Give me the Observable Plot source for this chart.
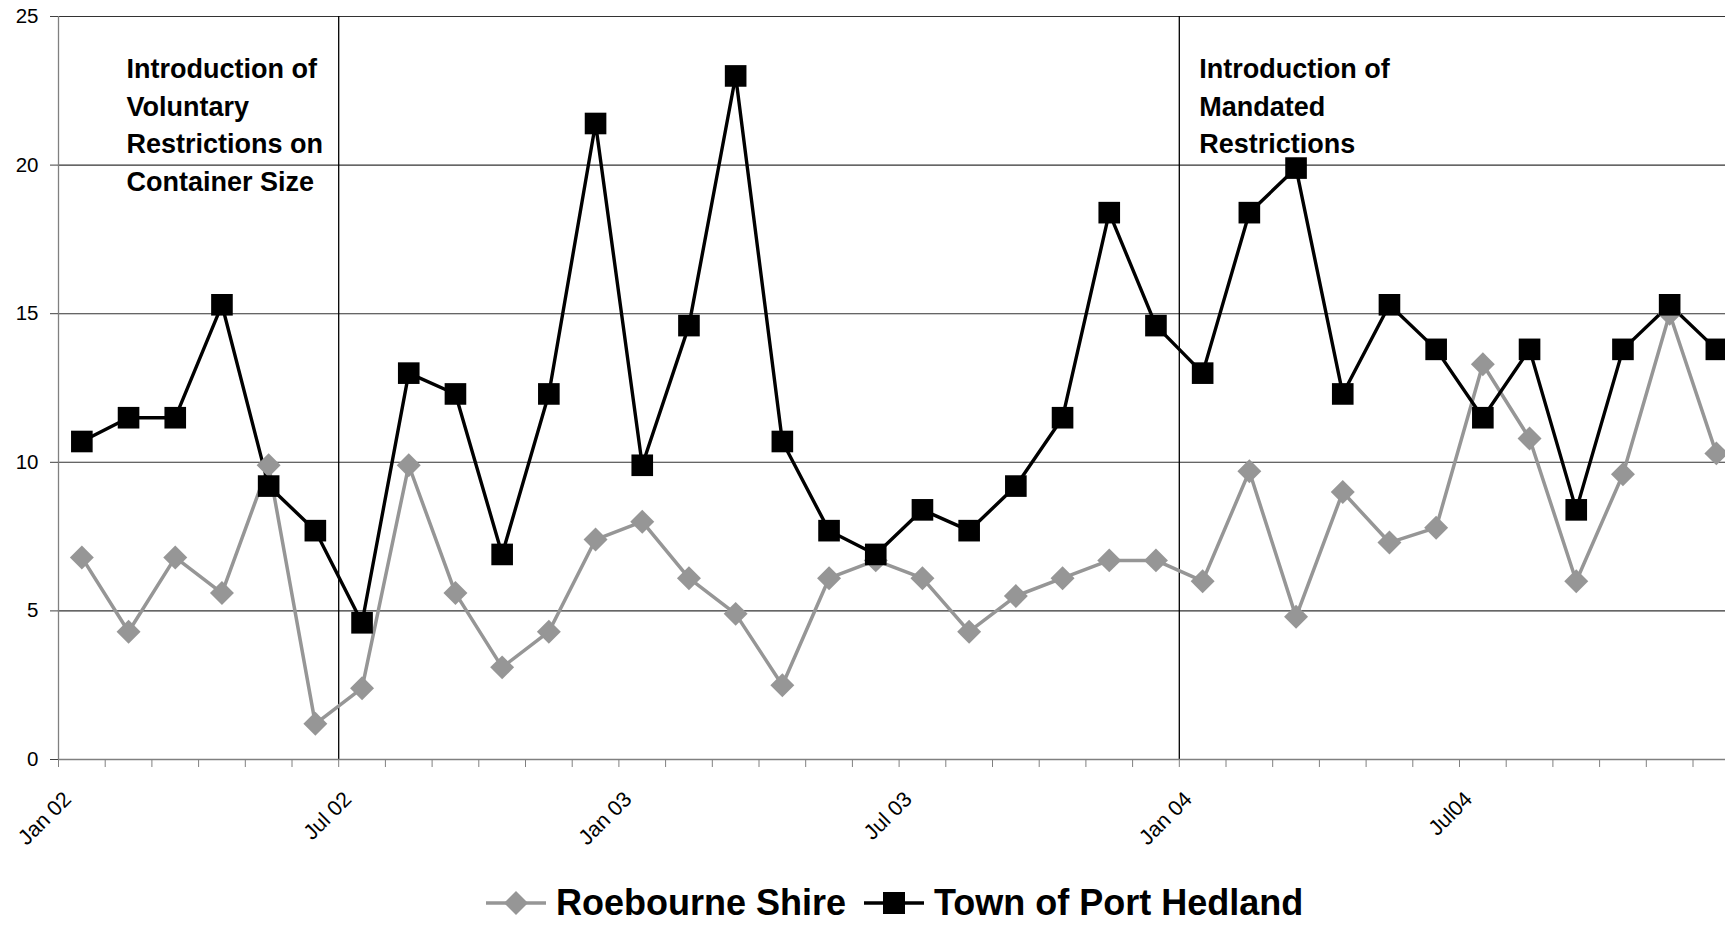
<!DOCTYPE html>
<html>
<head>
<meta charset="utf-8">
<script src="https://cdn.jsdelivr.net/npm/d3@7"></script>
<script src="https://cdn.jsdelivr.net/npm/@observablehq/plot@0.6"></script>
<style>
  html, body { margin: 0; padding: 0; background: #fff; width: 1725px; height: 926px; overflow: hidden; }
  #wrap { position: relative; width: 1725px; height: 926px; overflow: hidden; font-family: "Liberation Sans", Arial, sans-serif; }
  #chart { position: absolute; left: 0; top: 0; }
  #chart svg { max-width: none !important; }
  #legend { position: absolute; left: 486px; top: 887px; height: 32px; display: flex; align-items: center;
            font-family: "Liberation Sans", Arial, sans-serif; font-weight: bold; font-size: 36px; line-height: 32px; color: #000; white-space: nowrap; }
  #legend .item { display: flex; align-items: center; height: 32px; }
  #legend svg { display: block; }
</style>
</head>
<body>
<div id="wrap">
  <div id="chart"></div>
  <div id="legend"></div>
</div>
<script>
// ---- data ----
const months = [
  "Jan 02","Feb 02","Mar 02","Apr 02","May 02","Jun 02","Jul 02","Aug 02","Sep 02","Oct 02","Nov 02","Dec 02",
  "Jan 03","Feb 03","Mar 03","Apr 03","May 03","Jun 03","Jul 03","Aug 03","Sep 03","Oct 03","Nov 03","Dec 03",
  "Jan 04","Feb 04","Mar 04","Apr 04","May 04","Jun 04","Jul 04","Aug 04","Sep 04","Oct 04","Nov 04","Dec 04"
];
const roebourne = [
  6.8, 4.3, 6.8, 5.6, 9.9, 1.2, 2.4, 9.9, 5.6, 3.1, 4.3, 7.4,
  8.0, 6.1, 4.9, 2.5, 6.1, 6.7, 6.1, 4.3, 5.5, 6.1, 6.7, 6.7,
  6.0, 9.7, 4.8, 9.0, 7.3, 7.8, 13.3, 10.8, 6.0, 9.6, 15.0, 10.3
];
const portHedland = [
  10.7, 11.5, 11.5, 15.3, 9.2, 7.7, 4.6, 13.0, 12.3, 6.9, 12.3, 21.4,
  9.9, 14.6, 23.0, 10.7, 7.7, 6.9, 8.4, 7.7, 9.2, 11.5, 18.4, 14.6,
  13.0, 18.4, 19.9, 12.3, 15.3, 13.8, 11.5, 13.8, 8.4, 13.8, 15.3, 13.8
];
const seriesNames = ["Roebourne Shire", "Town of Port Hedland"];
const tickMonths = [0, 6, 12, 18, 24, 30];
const tickLabels = ["Jan 02", "Jul 02", "Jan 03", "Jul 03", "Jan 04", "Jul04"];
const yTicks = [0, 5, 10, 15, 20, 25];
const events = [6, 24];
const voluntaryNote = "Introduction of\nVoluntary\nRestrictions on\nContainer Size";
const mandatedNote = "Introduction of\nMandated\nRestrictions";

// ---- build ----
const rows = months.map((m, i) => ({ i, m, roe: roebourne[i], ph: portHedland[i] }));
const monthBounds = d3.range(0, months.length + 1);
const GRAY = "#969696";
const FONT = "'Liberation Sans', Arial, sans-serif";

const chart = Plot.plot({
  width: 1760,
  height: 860,
  marginLeft: 58,
  marginRight: 20.8,
  marginTop: 16,
  marginBottom: 101,
  style: { fontFamily: FONT, fontSize: "20px", background: "white", maxWidth: "none", overflow: "visible" },
  x: { domain: [0, months.length], label: null },
  y: { domain: [0, 25], label: null },
  marks: [
    Plot.ruleY(yTicks.filter(v => v > 0), { stroke: "#333", strokeWidth: 1.1 }),
    Plot.ruleX(events, { stroke: "#000", strokeWidth: 1.3 }),
    Plot.ruleX([0], { stroke: "#808080", strokeWidth: 1.3 }),
    Plot.ruleY([0], { stroke: "#808080", strokeWidth: 1.3 }),
    Plot.axisY(yTicks, { tickSize: 8, tickPadding: 12, stroke: "#404040", fontSize: 20.5, label: null }),
    Plot.axisX(monthBounds, { tickSize: 8, tickFormat: () => "", stroke: "#808080", label: null }),
    Plot.text(tickMonths, {
      x: d => d, text: (d, i) => tickLabels[i], frameAnchor: "bottom",
      rotate: -45, textAnchor: "end", lineAnchor: "bottom", dx: 14, dy: 41, fontSize: 21.5, fill: "#000"
    }),
    // series
    Plot.line(rows, { x: d => d.i + 0.5, y: "roe", stroke: GRAY, strokeWidth: 3.5, strokeLinejoin: "miter" }),
    Plot.line(rows, { x: d => d.i + 0.5, y: "ph", stroke: "#000", strokeWidth: 3.4, strokeLinejoin: "miter" }),
    Plot.dot(rows, { x: d => d.i + 0.5, y: "roe", symbol: "diamond2", r: 10.8, fill: GRAY, stroke: "none" }),
    Plot.dot(rows, { x: d => d.i + 0.5, y: "ph", symbol: "square", r: 12.2, fill: "#000", stroke: "none" }),
    // annotations
    Plot.text([voluntaryNote], {
      text: d => d, frameAnchor: "top-left", textAnchor: "start", lineAnchor: "top",
      lineHeight: 1.39, fontSize: 27, fontWeight: "bold", dx: 68, dy: 35, fill: "#000"
    }),
    Plot.text([mandatedNote], {
      text: d => d, x: () => events[1], frameAnchor: "top", textAnchor: "start", lineAnchor: "top",
      lineHeight: 1.39, fontSize: 27, fontWeight: "bold", dx: 20, dy: 35, fill: "#000"
    })
  ]
});
document.getElementById("chart").appendChild(chart);

// ---- legend ----
const legend = d3.select("#legend");
function swatch(item, kind) {
  const s = item.append("svg").attr("width", 60).attr("height", 32).style("overflow", "visible");
  if (kind === "roe") {
    s.append("line").attr("x1", 0).attr("x2", 60).attr("y1", 16).attr("y2", 16)
      .attr("stroke", GRAY).attr("stroke-width", 3.5);
    s.append("path").attr("d", "M30,4L42,16L30,28L18,16Z").attr("fill", GRAY);
  } else {
    s.append("line").attr("x1", 0).attr("x2", 60).attr("y1", 16).attr("y2", 16)
      .attr("stroke", "#000").attr("stroke-width", 3.4);
    s.append("rect").attr("x", 19).attr("y", 5).attr("width", 22).attr("height", 22).attr("fill", "#000");
  }
}
const it1 = legend.append("div").attr("class", "item");
swatch(it1, "roe");
it1.append("span").style("margin-left", "10px").text(seriesNames[0]);
const it2 = legend.append("div").attr("class", "item").style("margin-left", "18px");
swatch(it2, "ph");
it2.append("span").style("margin-left", "10px").text(seriesNames[1]);
</script>
</body>
</html>
